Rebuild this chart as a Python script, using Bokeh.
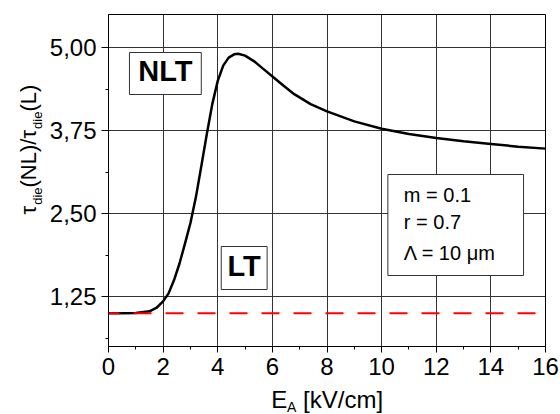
import math
from bokeh.plotting import figure
from bokeh.models import FixedTicker, Label, BoxAnnotation, Range1d
from bokeh.layouts import row, column
from bokeh.embed import file_html
from bokeh.resources import INLINE

# ---- data ----
E_kV = [0, 0.5, 1.0, 1.5, 1.75, 2.0, 2.2, 2.4, 2.6, 2.8, 3.0, 3.2, 3.4, 3.6, 3.8,
        4.0, 4.2, 4.4, 4.6, 4.75, 5.0, 5.35, 5.7, 6.08, 6.4, 6.8, 7.4, 8, 9, 10,
        11, 12, 13, 14, 15, 16]
ratio = [1.0, 1.0, 1.005, 1.03, 1.08, 1.18, 1.30, 1.50, 1.75, 2.05, 2.36, 2.75,
         3.22, 3.70, 4.15, 4.50, 4.73, 4.85, 4.90, 4.91, 4.88, 4.79, 4.67, 4.54,
         4.43, 4.30, 4.15, 4.04, 3.89, 3.78, 3.70, 3.64, 3.59, 3.55, 3.51, 3.48]
lt_x = [0, 16]
lt_y = [1.0, 1.0]

x_ticks = [0, 2, 4, 6, 8, 10, 12, 14, 16]
x_tick_labels = ["0", "2", "4", "6", "8", "10", "12", "14", "16"]
x_minor = [1, 3, 5, 7, 9, 11, 13, 15]
y_ticks = [1.25, 2.5, 3.75, 5.0]
y_tick_labels = ["1,25", "2,50", "3,75", "5,00"]
y_minor = [0.625, 1.875, 3.125, 4.375]

params = ["m = 0.1", "r = 0.7", "\u039b = 10 \u03bcm"]

# ---- layout (global canvas pixels) ----
W, H = 560, 414
LW = 46            # left strip for the y title
MH = 387           # height of the main plot
FL, FT, FR, FB = 107, 14, 545, 346
X0, X1, Y0, Y1 = 0.0, 16.0, 0.5, 5.5
FONT = "Liberation Sans"
K = 0.42           # baseline correction of Label text (em)


def X(px):
    return X0 + (px - FL) / (FR - FL) * (X1 - X0)


def Y(py):
    return Y1 - (py - FT) / (FB - FT) * (Y1 - Y0)


CW = {'\u03c4': 0.44, 'd': 0.556, 'i': 0.222, 'e': 0.556, '(': 0.333, ')': 0.333,
      'N': 0.722, 'L': 0.556, '/': 0.278, 'E': 0.667, 'A': 0.667, ' ': 0.278,
      '\u00a0': 0.278, '[': 0.278, ']': 0.278, 'k': 0.5, 'V': 0.667, 'c': 0.5,
      'm': 0.833}


def tw(s, size):
    return sum(CW.get(c, 0.55) for c in s) * size


def blank(width, height, xr, yr):
    f = figure(width=width, height=height, output_backend="svg",
               toolbar_location=None, x_range=Range1d(*xr), y_range=Range1d(*yr),
               x_axis_location=None, y_axis_location=None,
               min_border_left=0, min_border_right=0, min_border_top=0,
               min_border_bottom=0, align="start")
    f.grid.visible = False
    f.outline_line_color = None
    f.background_fill_color = "white"
    f.border_fill_color = "white"
    return f


# ---- main plot ----
p = figure(width=W - LW, height=MH, output_backend="svg", toolbar_location=None,
           x_range=Range1d(X0, X1), y_range=Range1d(Y0, Y1),
           min_border_left=FL - LW, min_border_right=W - FR,
           min_border_top=FT, min_border_bottom=MH - FB, align="start")
p.background_fill_color = "white"
p.border_fill_color = "white"
p.outline_line_color = "black"
p.outline_line_width = 1
p.outline_line_alpha = 1

p.xaxis.ticker = FixedTicker(ticks=x_ticks, minor_ticks=x_minor)
p.yaxis.ticker = FixedTicker(ticks=y_ticks, minor_ticks=y_minor)
p.xaxis.major_label_overrides = {t: l for t, l in zip(x_ticks, x_tick_labels)}
p.yaxis.major_label_overrides = {(int(t) if float(t).is_integer() else t): l
                                 for t, l in zip(y_ticks, y_tick_labels)}
for ax in (p.xaxis[0], p.yaxis[0]):
    ax.major_label_text_font = FONT
    ax.major_label_text_font_size = "24px"
    ax.major_label_text_color = "black"
    ax.axis_line_color = "black"
    ax.major_tick_line_color = "black"
    ax.minor_tick_line_color = "black"
    ax.major_tick_in = 0
    ax.minor_tick_in = 0
    ax.minor_tick_out = 3
p.xaxis.major_tick_out = 6
p.yaxis.major_tick_out = 7
p.xaxis.major_label_standoff = 5
p.yaxis.major_label_standoff = 5

p.xgrid.grid_line_color = "#333333"
p.ygrid.grid_line_color = "#333333"

p.line(E_kV, ratio, line_color="black", line_width=2.5)
p.line(lt_x, lt_y, line_color="#ff0000", line_width=2, line_dash="18 14",
       line_dash_offset=7)

for (l, r, t, b) in [(128, 200, 52, 94), (220, 266, 246, 289), (387, 523, 174, 275)]:
    p.add_layout(BoxAnnotation(left=X(l), right=X(r), top=Y(t), bottom=Y(b),
                               fill_color="white", fill_alpha=1,
                               line_color="#333333", line_width=1, line_alpha=1))


def lab(fig, x, y, text, size, bold=False, align="left", angle=0.0):
    fig.add_layout(Label(x=x, y=y, text=text, text_align=align,
                         text_baseline="alphabetic", text_font=FONT,
                         text_font_style="bold" if bold else "normal",
                         text_font_size=f"{size}px", text_color="black",
                         angle=angle))


lab(p, X(164), Y(83 - K * 29), "NLT", 29, bold=True, align="center")
lab(p, X(243), Y(278 - K * 29), "LT", 29, bold=True, align="center")
for txt, by in zip(params, [203, 230, 261]):
    lab(p, X(403), Y(by - K * 20), txt, 20)

# ---- y title strip (rotated), data coords = global pixels ----
left = blank(LW, H, (0, LW), (H, 0))
cy = 214
for s, sz, dx in [("\u03c4", 22, 0), ("die", 13, 5), ("(NL)/", 22, 0),
                  ("\u03c4", 22, 0), ("die", 13, 5), ("(L)", 22, 0)]:
    lab(left, 37 + dx - K * sz, cy, s, sz, angle=math.pi / 2)
    cy -= tw(s, sz)

# ---- x title strip under the main plot; its frame is aligned with the
#      main plot frame (global x FL..FR), so data coords = global pixels ----
bottom = blank(W - LW, H - MH, (FL, FR), (H, MH))
cx = 270
for s, sz, dy in [("E", 24, 0), ("A", 14, 3), ("\u00a0[kV/cm]", 24, 0)]:
    lab(bottom, cx, 409 + dy - K * sz, s, sz)
    cx += tw(s, sz)

layout = row(left, column(p, bottom, spacing=0, align="start"), spacing=0,
             align="start")
open("out.html", "w").write(file_html(layout, INLINE))
